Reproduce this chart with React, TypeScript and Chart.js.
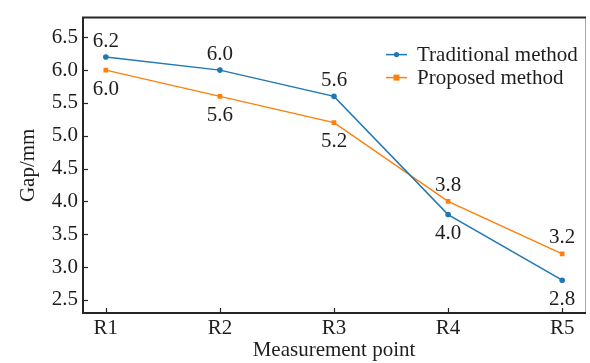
import React, { useEffect, useRef } from "react";
import { Chart, registerables } from "chart.js";

Chart.register(...registerables);

const categories = ["R1", "R2", "R3", "R4", "R5"];
const traditionalValues = [6.2, 6.0, 5.6, 3.8, 2.8];
const proposedValues = [6.0, 5.6, 5.2, 4.0, 3.2];
const traditionalLabels = ["6.2", "6.0", "5.6", "4.0", "2.8"];
const proposedLabels = ["6.0", "5.6", "5.2", "3.8", "3.2"];
const traditionalLabelAbove = [true, true, true, false, false];
const proposedLabelAbove = [false, false, false, true, true];
const yTickValues = [2.5, 3.0, 3.5, 4.0, 4.5, 5.0, 5.5, 6.0, 6.5];
const seriesNames = ["Traditional method", "Proposed method"];
const yTitle = "Gap/mm";
const xTitle = "Measurement point";

const BLUE = "#1f77b4";
const ORANGE = "#ff7f0e";
const FONT = "'Liberation Serif', 'Times New Roman', serif";
const TEXT = "#1e1e1e";
const FS = 21;

const decorPlugin = {
  id: "decor",
  afterDatasetsDraw(chart: any) {
    const ctx = chart.ctx;
    const { left, right, top, bottom } = chart.chartArea;
    const xs = chart.scales.x;
    const ys = chart.scales.y;
    ctx.save();
    // data labels
    ctx.font = `${FS}px ${FONT}`;
    ctx.fillStyle = TEXT;
    ctx.textAlign = "center";
    ctx.textBaseline = "middle";
    const drawLabels = (vals: number[], labels: string[], above: boolean[]) => {
      vals.forEach((v, i) => {
        const px = xs.getPixelForValue(i);
        const py = ys.getPixelForValue(v);
        ctx.fillText(labels[i], px, py + (above[i] ? -16 : 19));
      });
    };
    drawLabels(traditionalValues, traditionalLabels, traditionalLabelAbove);
    drawLabels(proposedValues, proposedLabels, proposedLabelAbove);

    // legend
    const lx = left + 303;
    const ly = [top + 37, top + 60];
    const colors = [BLUE, ORANGE];
    ctx.textAlign = "left";
    seriesNames.forEach((name, k) => {
      ctx.strokeStyle = colors[k];
      ctx.lineWidth = 1.5;
      ctx.beginPath();
      ctx.moveTo(lx, ly[k]);
      ctx.lineTo(lx + 21, ly[k]);
      ctx.stroke();
      ctx.fillStyle = colors[k];
      if (k === 0) {
        ctx.beginPath();
        ctx.arc(lx + 10.5, ly[k], 2.6, 0, Math.PI * 2);
        ctx.fill();
      } else {
        ctx.fillRect(lx + 10.5 - 3, ly[k] - 3, 6, 6);
      }
      ctx.fillStyle = TEXT;
      ctx.fillText(name, lx + 31, ly[k] + 1);
    });

    // frame
    ctx.strokeStyle = "#aaaaaa";
    ctx.lineWidth = 1;
    ctx.beginPath();
    ctx.moveTo(right + 0.5, top);
    ctx.lineTo(right + 0.5, bottom);
    ctx.stroke();
    ctx.strokeStyle = "#262626";
    ctx.lineWidth = 2;
    ctx.beginPath();
    ctx.moveTo(right + 1, top);
    ctx.lineTo(left, top);
    ctx.lineTo(left, bottom);
    ctx.lineTo(right + 1, bottom);
    ctx.stroke();

    // inward ticks
    ctx.lineWidth = 1.2;
    yTickValues.forEach((v) => {
      const py = Math.round(ys.getPixelForValue(v)) + 0.5;
      ctx.beginPath();
      ctx.moveTo(left, py);
      ctx.lineTo(left + 5, py);
      ctx.stroke();
    });
    categories.forEach((_, i) => {
      const px = Math.round(xs.getPixelForValue(i)) + 0.5;
      ctx.beginPath();
      ctx.moveTo(px, bottom);
      ctx.lineTo(px, bottom - 5);
      ctx.stroke();
    });

    // axis titles
    ctx.fillStyle = TEXT;
    ctx.font = `${FS}px ${FONT}`;
    ctx.textAlign = "center";
    ctx.textBaseline = "middle";
    ctx.fillText(xTitle, (left + right) / 2, 350);
    ctx.save();
    ctx.translate(28, (top + bottom) / 2);
    ctx.rotate(-Math.PI / 2);
    ctx.fillText(yTitle, 0, 0);
    ctx.restore();
    ctx.restore();
  },
};

export default function App() {
  const ref = useRef<HTMLCanvasElement | null>(null);
  useEffect(() => {
    document.body.style.margin = "0";
    const canvas = ref.current!;
    const chart = new Chart(canvas, {
      type: "line",
      data: {
        datasets: [
          {
            label: seriesNames[0],
            data: traditionalValues.map((v, i) => ({ x: i, y: v })),
            borderColor: BLUE,
            backgroundColor: BLUE,
            borderWidth: 1.5,
            pointStyle: "circle",
            pointRadius: 2.8,
            pointBorderWidth: 0,
            tension: 0,
          },
          {
            label: seriesNames[1],
            data: proposedValues.map((v, i) => ({ x: i, y: v })),
            borderColor: ORANGE,
            backgroundColor: ORANGE,
            borderWidth: 1.5,
            pointStyle: "rect",
            pointRadius: 3.3,
            pointBorderWidth: 0,
            tension: 0,
          },
        ],
      },
      options: {
        animation: false,
        responsive: false,
        devicePixelRatio: 1,
        layout: { padding: { top: 8, right: 5, left: 0, bottom: 0 } },
        plugins: { legend: { display: false }, tooltip: { enabled: false } },
        scales: {
          x: {
            type: "linear",
            min: -0.2,
            max: 4.2,
            afterBuildTicks: (scale: any) => {
              scale.ticks = categories.map((_, i) => ({ value: i }));
            },
            afterFit: (scale: any) => {
              scale.height = 50;
            },
            ticks: {
              autoSkip: false,
              maxRotation: 0,
              padding: 3,
              color: TEXT,
              font: { family: FONT, size: FS },
              callback: (v: any) => categories[v as number] ?? "",
            },
            grid: { display: false, drawTicks: false },
            border: { display: false },
          },
          y: {
            type: "linear",
            min: 2.3,
            max: 6.8,
            afterBuildTicks: (scale: any) => {
              scale.ticks = yTickValues.map((v) => ({ value: v }));
            },
            afterFit: (scale: any) => {
              scale.width = 83;
            },
            ticks: {
              padding: 5,
              color: TEXT,
              font: { family: FONT, size: FS },
              callback: (v: any) => Number(v).toFixed(1),
            },
            grid: { display: false, drawTicks: false },
            border: { display: false },
          },
        },
      },
      plugins: [decorPlugin],
    } as any);
    return () => chart.destroy();
  }, []);
  return <canvas ref={ref} width={590} height={363} style={{ display: "block" }} />;
}
